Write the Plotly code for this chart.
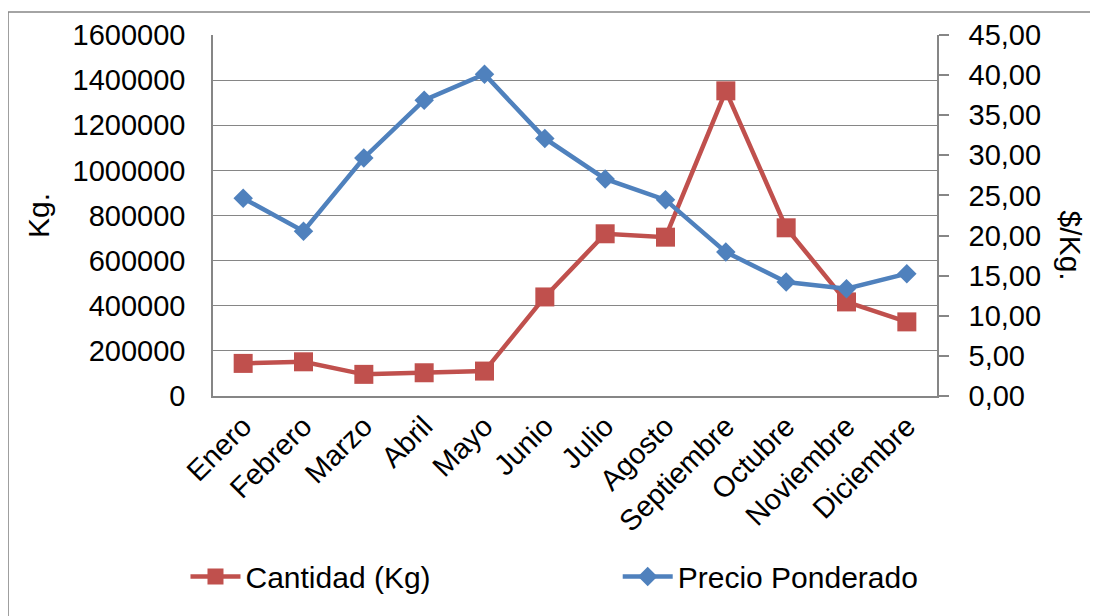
import plotly.graph_objects as go

# Datos
meses = ['Enero', 'Febrero', 'Marzo', 'Abril', 'Mayo', 'Junio', 'Julio',
         'Agosto', 'Septiembre', 'Octubre', 'Noviembre', 'Diciembre']
cantidad_kg = [144500, 151600, 95900, 103000, 110500, 439000,
               719000, 704000, 1352500, 745500, 417000, 328500]
precio_ponderado = [24.65, 20.55, 29.67, 36.88, 40.11, 32.11,
                    27.06, 24.45, 17.94, 14.21, 13.38, 15.25]

ROJO = '#C0504D'
AZUL = '#4F81BD'
GRIS = '#868686'
FUENTE = 'Liberation Sans, Arial, sans-serif'

fig = go.Figure()

fig.add_trace(go.Scatter(
    x=meses, y=cantidad_kg,
    name='Cantidad (Kg)',
    mode='lines+markers',
    line=dict(color=ROJO, width=4.5),
    marker=dict(symbol='square', size=19, color=ROJO),
    legend='legend',
))

fig.add_trace(go.Scatter(
    x=meses, y=precio_ponderado,
    name='Precio Ponderado',
    mode='lines+markers',
    line=dict(color=AZUL, width=4.5),
    marker=dict(symbol='diamond', size=15, color=AZUL),
    yaxis='y2',
    legend='legend2',
))

# marco exterior del área del gráfico
fig.add_shape(type='path', xref='paper', yref='paper',
              path='M -0.2831,-0.7 L -0.2831,1.0637 L 1.3,1.0637',
              line=dict(color=GRIS, width=1.5))

fig.update_layout(
    width=1098, height=616,
    margin=dict(l=205, r=169, t=27, b=228),
    plot_bgcolor='white',
    paper_bgcolor='white',
    separators=',.',
    font=dict(family=FUENTE, size=29, color='black'),
    showlegend=True,
    xaxis=dict(
        range=[-0.5, 11.5],
        tickangle=-45,
        showgrid=False,
        showline=True, linecolor=GRIS, linewidth=1.5,
        ticks='',
        tickfont=dict(size=29),
    ),
    yaxis=dict(
        range=[0, 1600000],
        dtick=200000,
        tickformat='d',
        showgrid=True, gridcolor=GRIS, gridwidth=1.3,
        showline=True, linecolor=GRIS, linewidth=1.5,
        zeroline=False,
        ticks='',
        ticklabelstandoff=20,
        tickfont=dict(size=29),
    ),
    yaxis2=dict(
        range=[0, 45],
        dtick=5,
        tickformat='.2f',
        overlaying='y',
        side='right',
        showgrid=False,
        showline=True, linecolor=GRIS, linewidth=1.5,
        zeroline=False,
        ticks='outside', ticklen=10, tickcolor=GRIS, tickwidth=1.5,
        ticklabelstandoff=14,
        tickfont=dict(size=29),
    ),
    legend=dict(
        orientation='h', x=-0.038, xanchor='left', y=-0.5, yanchor='middle',
        font=dict(size=30), bgcolor='rgba(0,0,0,0)', itemwidth=50,
    ),
    legend2=dict(
        orientation='h', x=0.559, xanchor='left', y=-0.5, yanchor='middle',
        font=dict(size=30), bgcolor='rgba(0,0,0,0)', itemwidth=50,
    ),
    annotations=[
        dict(text='Kg.', xref='paper', yref='paper', x=-0.241, y=0.50,
             showarrow=False, textangle=-90, font=dict(size=30),
             xanchor='center', yanchor='middle'),
        dict(text='$/Kg.', xref='paper', yref='paper', x=1.184, y=0.416,
             showarrow=False, textangle=90, font=dict(size=30),
             xanchor='center', yanchor='middle'),
    ],
)

fig.write_html("out.html")
